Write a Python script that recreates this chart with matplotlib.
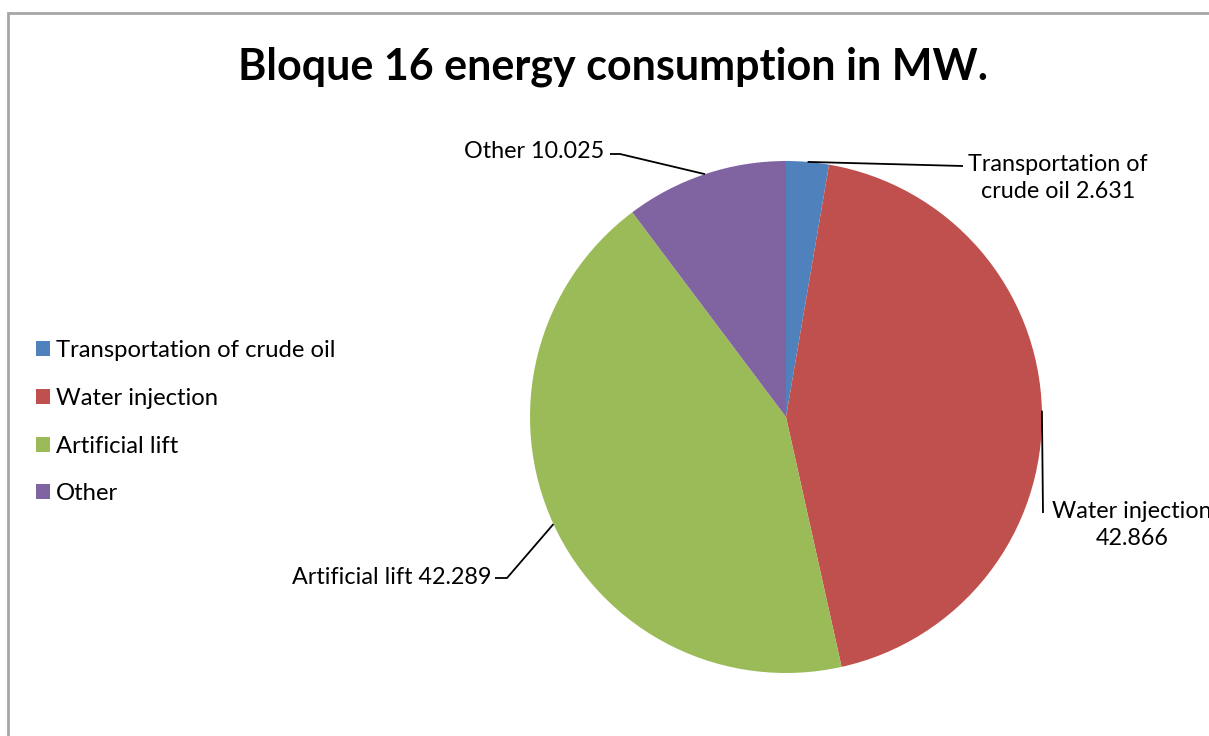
import numpy as np
import matplotlib
matplotlib.use('Agg')
import matplotlib.pyplot as plt
from matplotlib.patches import Rectangle

# data
categories = ['Transportation of crude oil', 'Water injection', 'Artificial lift', 'Other']
values_mw = [2.631, 42.866, 42.289, 10.025]
colors = ['#4F81BD', '#C0504D', '#9BBB59', '#8064A2']
title = 'Bloque 16 energy consumption in MW.'

W, H = 1209, 736
plt.rcParams['font.family'] = ['Lato', 'DejaVu Sans']

def img(x, y):
    # image pixel coords (y down) -> data coords (y up)
    return x, H - y

fig = plt.figure(figsize=(W / 100, H / 100), dpi=100)
ax = fig.add_axes([0, 0, 1, 1])

center = img(786, 417)
radius = 256
wedges, _ = ax.pie(values_mw, colors=colors, startangle=90, counterclock=False,
                   center=center, radius=radius,
                   wedgeprops=dict(linewidth=0))
ax.set_xlim(0, W)
ax.set_ylim(0, H)
ax.set_aspect('equal')
ax.axis('off')

# outer chart border (runs off right and bottom edges)
fig.patches.append(Rectangle((7.5, -20), W, H - 12.5 + 20, transform=None,
                             fill=False, edgecolor='#a6a6a6', linewidth=2))

fig.text(613 / W, 1 - 67 / H, title, ha='center', va='center',
         fontsize=31, fontweight='bold')

# data labels with leader lines
labels = [f'{c} {v:.3f}' for c, v in zip(categories, values_mw)]
labels[0] = labels[0].replace('of ', 'of\n')
labels[1] = labels[1].replace('injection ', 'injection\n')

# (leader path after anchor, text pos, ha)
layout = [
    ([(963, 166)], (1058, 178), 'center'),
    ([(1043, 513)], (1132, 525), 'center'),   # runs off the right edge, like the reference
    ([(507, 578), (495, 578)], (491, 577), 'right'),
    ([(620, 154), (610, 154)], (604, 151), 'right'),
]
for w, lab, (path, tpos, ha) in zip(wedges, labels, layout):
    ang = np.deg2rad((w.theta1 + w.theta2) / 2)
    ax_, ay_ = center[0] + radius * np.cos(ang), center[1] + radius * np.sin(ang)
    xs = [ax_] + [p[0] for p in path]
    ys = [ay_] + [H - p[1] for p in path]
    ax.plot(xs, ys, color='black', lw=1.3, solid_capstyle='butt')
    ax.text(*img(*tpos), lab, ha=ha, va='center', fontsize=16.8,
            linespacing=1.35, multialignment='center')

ax.legend(wedges, categories, loc='upper left',
          bbox_to_anchor=(36 / W, 1 - 340 / H), frameon=False, fontsize=17.2,
          handlelength=0.6, handleheight=0.6, handletextpad=0.25,
          labelspacing=1.12, borderaxespad=0, borderpad=0)

fig.savefig('out.png', dpi=100)
